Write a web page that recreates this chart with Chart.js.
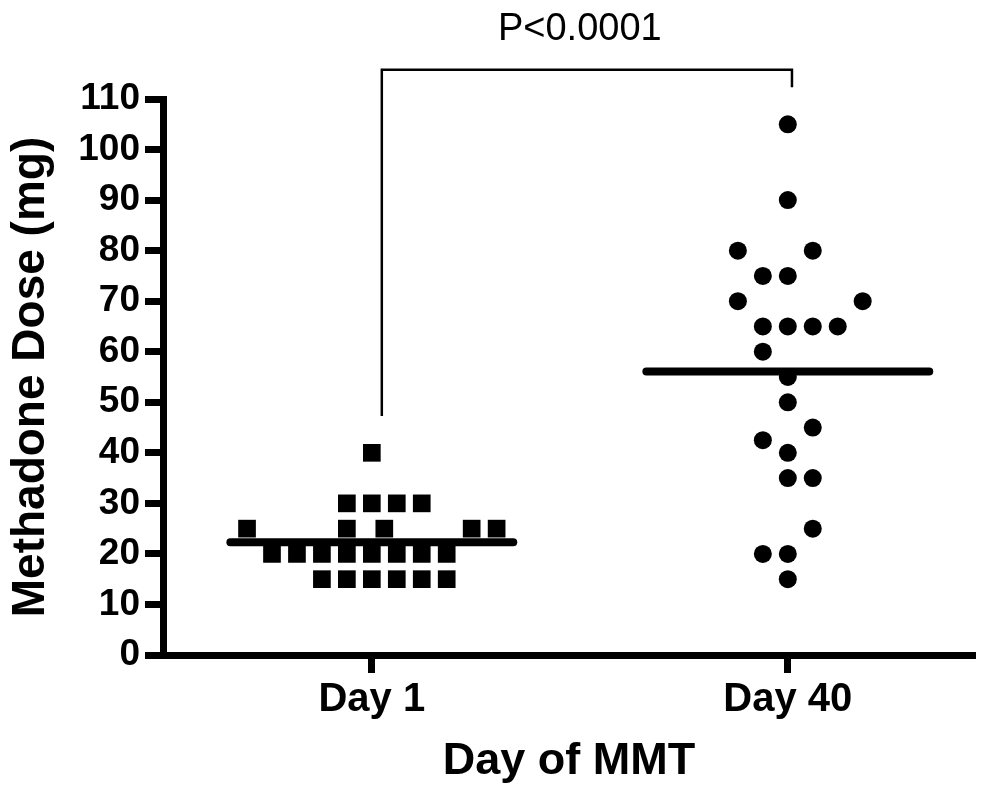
<!DOCTYPE html>
<html>
<head>
<meta charset="utf-8">
<title>Methadone dose by day of MMT</title>
<script src="https://cdn.jsdelivr.net/npm/chart.js@4.4.1/dist/chart.umd.min.js"></script>
<style>
  html, body { margin: 0; padding: 0; background: #fff; }
  #wrap { width: 990px; height: 789px; }
</style>
</head>
<body>
<div id="wrap"><canvas id="chart" width="990" height="789"></canvas></div>
<script>
// categories on the x axis
const days = ['Day 1', 'Day 40'];

// Day 1 doses (mg) and the column each square sits in (columns left/right of the category)
const day1Dose = [40, 30, 30, 30, 30, 25, 25, 25, 25, 25, 20, 20, 20, 20, 20, 20, 20, 20, 15, 15, 15, 15, 15, 15];
const day1Col  = [ 0, -1,  0,  1,  2, -5, -1, 0.5, 4,  5, -4, -3, -2, -1,  0,  1,  2,  3, -2, -1,  0,  1,  2,  3];

// Day 40 doses (mg) and their columns
const day40Dose = [105, 90, 80, 80, 75, 75, 70, 70, 65, 65, 65, 65, 60, 55, 50, 45, 42.5, 40, 35, 35, 25, 20, 20, 15];
const day40Col  = [  0,  0, -2,  1, -1,  0, -2,  3, -1,  0,  1,  2, -1,  0,  0,  1,   -1,  0,  0,  1,  1, -1,  0,  0];

// group means (horizontal bars)
const meanDose = [22.3, 56.1];

// y ticks
const yTicks = [0, 10, 20, 30, 40, 50, 60, 70, 80, 90, 100, 110];

const pLabel = 'P<0.0001';

const COL = 0.06;        // width of one dot column, in category units
const MEAN_HALF = 0.34;  // half length of the mean bar
const FONT = '"Liberation Sans", Arial, Helvetica, sans-serif';

function dots(doses, cols, center) {
    return doses.map((d, i) => ({x: center + cols[i] * COL, y: d}));
}

function meanBar(i) {
    return [{x: i - MEAN_HALF, y: meanDose[i]}, {x: i + MEAN_HALF, y: meanDose[i]}];
}

// comparison bracket and p value above the groups
const bracketPlugin = {
    id: 'bracket',
    afterDraw(chart) {
        const ctx = chart.ctx;
        const xs = chart.scales.x, ys = chart.scales.y;
        const xl = xs.getPixelForValue(0.024), xr = xs.getPixelForValue(1.01);
        const top = ys.getPixelForValue(115.8);
        ctx.save();
        ctx.strokeStyle = '#000';
        ctx.lineWidth = 2.5;
        ctx.beginPath();
        ctx.moveTo(xl, ys.getPixelForValue(47.3));
        ctx.lineTo(xl, top);
        ctx.lineTo(xr, top);
        ctx.lineTo(xr, ys.getPixelForValue(112.3));
        ctx.stroke();
        ctx.fillStyle = '#000';
        ctx.font = '38px ' + FONT;
        ctx.textAlign = 'center';
        ctx.textBaseline = 'middle';
        ctx.fillText(pLabel, xs.getPixelForValue(0.5), ys.getPixelForValue(123.8));
        ctx.restore();
    }
};

new Chart(document.getElementById('chart'), {
    type: 'scatter',
    data: {
        datasets: [
            {
                label: days[0],
                data: dots(day1Dose, day1Col, 0),
                pointStyle: 'rect',
                pointRadius: 12.5,
                backgroundColor: '#000',
                borderWidth: 0,
            },
            {
                label: days[1],
                data: dots(day40Dose, day40Col, 1),
                pointStyle: 'circle',
                pointRadius: 9,
                backgroundColor: '#000',
                borderWidth: 0,
            },
            {
                type: 'line',
                data: meanBar(0),
                borderColor: '#000',
                borderWidth: 8,
                borderCapStyle: 'round',
                pointRadius: 0,
            },
            {
                type: 'line',
                data: meanBar(1),
                borderColor: '#000',
                borderWidth: 8,
                borderCapStyle: 'round',
                pointRadius: 0,
            },
        ]
    },
    options: {
        responsive: false,
        animation: false,
        events: [],
        layout: {padding: {top: 99, right: 15, left: 0, bottom: 0}},
        plugins: {legend: {display: false}, tooltip: {enabled: false}},
        scales: {
            x: {
                type: 'linear',
                min: -0.502,
                max: 1.45,
                afterBuildTicks: (s) => { s.ticks = [{value: 0}, {value: 1}]; },
                afterFit: (s) => { s.height = 134; },
                ticks: {
                    callback: (v) => days[v],
                    color: '#000',
                    padding: 3,
                    maxRotation: 0,
                    font: {family: FONT, size: 40, weight: 'bold'},
                },
                grid: {drawOnChartArea: false, tickLength: 18, tickWidth: 7, tickColor: '#000'},
                border: {color: '#000', width: 7},
                title: {
                    display: true,
                    text: 'Day of MMT',
                    color: '#000',
                    padding: 0,
                    font: {family: FONT, size: 45, weight: 'bold'},
                },
            },
            y: {
                min: 0,
                max: 110,
                afterBuildTicks: (s) => { s.ticks = yTicks.map(v => ({value: v})); },
                afterFit: (s) => { s.width = 163; },
                ticks: {
                    color: '#000',
                    padding: 5,
                    font: {family: FONT, size: 37, weight: 'bold'},
                },
                grid: {drawOnChartArea: false, tickLength: 18, tickWidth: 7, tickColor: '#000'},
                border: {color: '#000', width: 7},
                title: {
                    display: true,
                    text: 'Methadone Dose (mg)',
                    color: '#000',
                    padding: 4,
                    font: {family: FONT, size: 46, weight: 'bold'},
                },
            },
        },
    },
    plugins: [bracketPlugin],
});
</script>
</body>
</html>
